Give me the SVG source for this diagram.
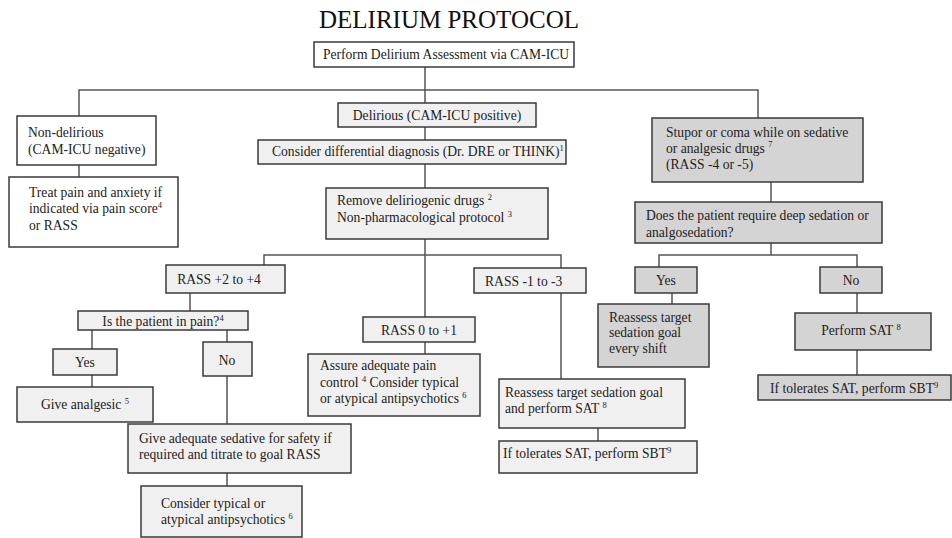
<svg xmlns="http://www.w3.org/2000/svg" width="952" height="538" viewBox="0 0 952 538">
<style>
  .b { stroke:#3a3a3a; stroke-width:1.5; }
  .w { fill:#ffffff; }
  .l { fill:#f0f0f0; }
  .d { fill:#d4d4d4; }
  text { font-family:"Liberation Serif","Times New Roman",serif; font-size:13.6px; fill:#222; }
  .c { text-anchor:middle; }
  .s { font-size:8.5px; }
  .title { font-size:25px; text-anchor:middle; fill:#111; }
  #connectors path { fill:none; stroke:#555; stroke-width:1.5; }
</style>
<rect width="952" height="538" fill="#ffffff"/>
<text class="title" x="449" y="28">DELIRIUM PROTOCOL</text>

<g id="connectors">
  <path d="M425,67 V103"/>
  <path d="M79,116 V90 H758 V118"/>
  <path d="M425,127 V140"/>
  <path d="M425,164 V188"/>
  <path d="M425,239 V317"/>
  <path d="M425,342 V354"/>
  <path d="M79,165 V177"/>
  <path d="M264,265 V255 H561 V268"/>
  <path d="M190,293 V311"/>
  <path d="M92,330 V349"/>
  <path d="M227,330 V342"/>
  <path d="M92,375 V387"/>
  <path d="M227,376 V424"/>
  <path d="M227,473 V486"/>
  <path d="M561,293 V379"/>
  <path d="M598,428 V441"/>
  <path d="M771,182 V202"/>
  <path d="M771,243 V255"/>
  <path d="M659,268 V255 H857 V268"/>
  <path d="M672,293 V304"/>
  <path d="M857,293 V313"/>
  <path d="M857,350 V375"/>
</g>

<g id="n-assess">
  <rect class="b w" x="314" y="42" width="260" height="25"/>
  <text class="c" x="446" y="59">Perform Delirium Assessment via CAM-ICU</text>
</g>

<g id="n-nondelirious">
  <rect class="b w" x="17" y="116" width="139" height="49"/>
  <text x="28" y="137">Non-delirious</text>
  <text x="28" y="154">(CAM-ICU negative)</text>
</g>

<g id="n-treat">
  <rect class="b w" x="9" y="177" width="169" height="70"/>
  <text x="29" y="197">Treat pain and anxiety if</text>
  <text x="29" y="213">indicated via pain score<tspan class="s" dy="-5">4</tspan></text>
  <text x="29" y="230">or RASS</text>
</g>

<g id="n-delirious">
  <rect class="b l" x="338" y="103" width="198" height="24"/>
  <text class="c" x="437" y="120">Delirious (CAM-ICU positive)</text>
</g>

<g id="n-differential">
  <rect class="b l" x="258" y="140" width="308" height="24"/>
  <text x="272" y="156">Consider differential diagnosis (Dr. DRE or THINK)<tspan class="s" dy="-5">1</tspan></text>
</g>

<g id="n-remove">
  <rect class="b l" x="326" y="188" width="222" height="51"/>
  <text x="337" y="205">Remove deliriogenic drugs <tspan class="s" dy="-5">2</tspan></text>
  <text x="337" y="222">Non-pharmacological protocol <tspan class="s" dy="-5">3</tspan></text>
</g>

<g id="n-rass-plus">
  <rect class="b l" x="166" y="265" width="119" height="28"/>
  <text class="c" x="219" y="284">RASS +2 to +4</text>
</g>

<g id="n-pain">
  <rect class="b l" x="78" y="311" width="170" height="19"/>
  <text class="c" x="163" y="326">Is the patient in pain?<tspan class="s" dy="-5">4</tspan></text>
</g>

<g id="n-yes-left">
  <rect class="b l" x="53" y="349" width="64" height="26"/>
  <text class="c" x="85" y="367">Yes</text>
</g>

<g id="n-no-left">
  <rect class="b l" x="203" y="342" width="49" height="34"/>
  <text class="c" x="227" y="365">No</text>
</g>

<g id="n-analgesic">
  <rect class="b l" x="17" y="387" width="136" height="35"/>
  <text class="c" x="85" y="409">Give analgesic <tspan class="s" dy="-5">5</tspan></text>
</g>

<g id="n-sedative">
  <rect class="b l" x="128" y="424" width="223" height="49"/>
  <text x="139" y="443">Give adequate sedative for safety if</text>
  <text x="139" y="459">required and titrate to goal RASS</text>
</g>

<g id="n-antipsych-left">
  <rect class="b l" x="141" y="486" width="161" height="51"/>
  <text x="161" y="508">Consider typical or</text>
  <text x="161" y="524">atypical antipsychotics <tspan class="s" dy="-5">6</tspan></text>
</g>

<g id="n-rass-zero">
  <rect class="b l" x="363" y="317" width="112" height="25"/>
  <text class="c" x="419" y="335">RASS 0 to +1</text>
</g>

<g id="n-assure">
  <rect class="b l" x="308" y="354" width="172" height="62"/>
  <text x="320" y="370">Assure adequate pain</text>
  <text x="320" y="387">control <tspan class="s" dy="-5">4</tspan><tspan dy="5"> Consider typical</tspan></text>
  <text x="320" y="403">or atypical  antipsychotics <tspan class="s" dy="-5">6</tspan></text>
</g>

<g id="n-rass-minus">
  <rect class="b l" x="474" y="268" width="112" height="25"/>
  <text x="485" y="286">RASS -1 to -3</text>
</g>

<g id="n-reassess-sat">
  <rect class="b l" x="499" y="379" width="186" height="49"/>
  <text x="505" y="397">Reassess target sedation goal</text>
  <text x="505" y="413">and perform SAT <tspan class="s" dy="-5">8</tspan></text>
</g>

<g id="n-sbt-mid">
  <rect class="b l" x="499" y="441" width="198" height="32"/>
  <text x="503" y="458">If tolerates SAT, perform SBT<tspan class="s" dy="-5">9</tspan></text>
</g>

<g id="n-stupor">
  <rect class="b d" x="652" y="118" width="211" height="64"/>
  <text x="666" y="137">Stupor or coma while on sedative</text>
  <text x="666" y="153">or analgesic drugs <tspan class="s" dy="-6">7</tspan></text>
  <text x="666" y="169">(RASS -4 or -5)</text>
</g>

<g id="n-deep">
  <rect class="b d" x="635" y="202" width="247" height="41"/>
  <text x="646" y="220">Does the patient require deep sedation or</text>
  <text x="646" y="237">analgosedation?</text>
</g>

<g id="n-yes-right">
  <rect class="b d" x="635" y="267" width="62" height="26"/>
  <text class="c" x="666" y="285">Yes</text>
</g>

<g id="n-no-right">
  <rect class="b d" x="820" y="267" width="62" height="26"/>
  <text class="c" x="851" y="285">No</text>
</g>

<g id="n-reassess-shift">
  <rect class="b d" x="598" y="304" width="111" height="63"/>
  <text x="609" y="322">Reassess target</text>
  <text x="609" y="337">sedation goal</text>
  <text x="609" y="353">every shift</text>
</g>

<g id="n-perform-sat">
  <rect class="b d" x="795" y="313" width="136" height="37"/>
  <text class="c" x="861" y="335">Perform SAT <tspan class="s" dy="-5">8</tspan></text>
</g>

<g id="n-sbt-right">
  <rect class="b d" x="758" y="375" width="193" height="25"/>
  <text x="770" y="393">If tolerates SAT, perform SBT<tspan class="s" dy="-5">9</tspan></text>
</g>
</svg>
